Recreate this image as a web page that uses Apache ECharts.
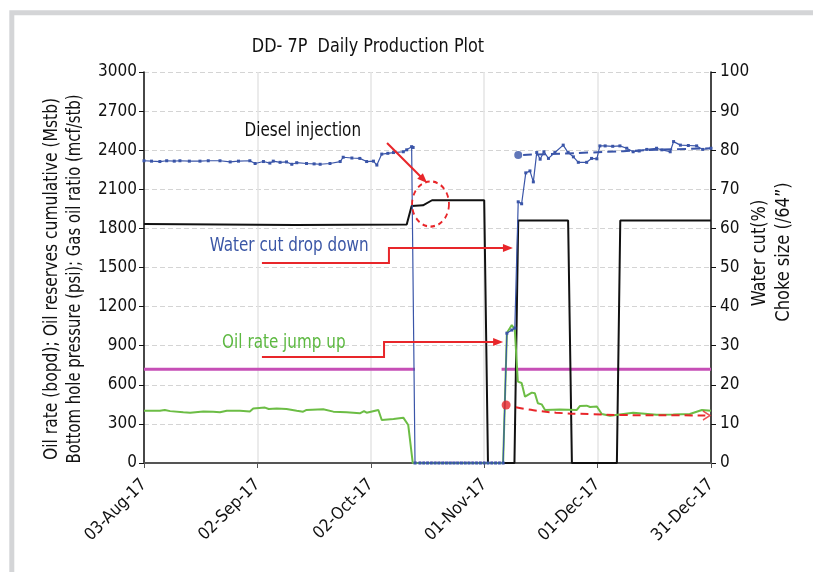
<!DOCTYPE html>
<html>
<head>
<meta charset="utf-8">
<title>DD-7P Daily Production Plot</title>
<script src="https://cdn.jsdelivr.net/npm/echarts@6/dist/echarts.min.js"></script>
<style>
html,body{margin:0;padding:0;background:#fff;}
#chart{width:813px;height:572px;}
</style>
</head>
<body>
<div id="chart"></div>
<script>
// x = days since 03-Aug-17
var tickLabels = ['03-Aug-17', '02-Sep-17', '02-Oct-17', '01-Nov-17', '01-Dec-17', '31-Dec-17'];

// water cut (%) - right axis
var waterCut = [
	[0,77.3],[2,77.2],[4.2,77.1],[6,77.3],[8,77.2],[9.5,77.3],[12,77.2],[14.8,77.2],[17,77.3],[20.1,77.3],
	[22.8,77.0],[25,77.2],[28,77.3],[29.4,76.6],[31.6,77.1],[33.3,76.7],[34.2,77.2],[36,76.9],[37.7,77.0],
	[39.1,76.4],[40.4,76.8],[43,76.6],[45,76.5],[46.6,76.4],[49.2,76.6],[51.9,77.1],[52.7,78.2],[55,78.0],
	[57.1,77.9],[58.9,77.1],[60.7,77.2],[61.6,76.2],[62.9,79.0],[64.5,79.2],[66,79.4],[68.6,79.6],[69.5,80.1],
	[70.8,80.9],[71.2,80.7],[71.7,0],
	[73,0],[74,0],[75,0],[76,0],[77,0],[78,0],[79,0],[80,0],[81,0],[82,0],[83,0],[84,0],[85,0],[86,0],
	[87,0],[88,0],[89,0],[90,0],[91,0],[92,0],[93,0],[94,0],[95,0],
	[96,33.2],[97.3,34.0],[98.1,34.5],[99,66.8],[99.9,66.3],[101,74.2],[102.1,74.7],[103,71.9],[103.9,79.4],
	[104.8,77.7],[105.8,79.6],[107,77.9],[108.7,79.4],[110.9,81.3],[112.2,79.4],[113.6,78.3],[114.9,76.9],
	[117.1,76.9],[118.4,77.9],[119.8,77.8],[120.6,81.1],[122,81.1],[124,81.0],[125.9,81.1],[127.7,80.5],
	[129.4,79.6],[131,79.8],[133,80.2],[135.6,80.5],[137,80.1],[139.2,79.6],[140.1,82.2],[141.9,81.3],
	[144,81.2],[146.2,81.1],[147.8,80.2],[150,80.5]
];

// choke size (/64") - right axis
var chokeSize = [
	[0,61.1],[40,60.9],[69.5,61.0],[70.8,65.7],[73.8,65.9],[76.2,67.2],[90,67.2],[91,0],
	[98,0],[99,62],[112.2,62],[113.2,0],[125.1,0],[126,62],[150,62]
];

// oil rate (bopd) - left axis
var oilRate = [
	[0,401],[4.2,401],[5.5,407],[6.9,398],[10.4,389],[12.2,386],[15.7,396],[18.3,394],[20.1,389],[21.9,401],
	[25.4,401],[28,396],[28.9,419],[32,425],[33,414],[35.1,419],[37.7,414],[40.4,401],[42.1,394],[43,407],
	[47.4,412],[50.1,394],[53.6,389],[57.1,381],[58.2,398],[58.9,386],[62,407],[62.9,330],[66,338],
	[68.6,348],[69,355],[69.9,292],[71.1,0],
	[95,0],[96,997],[97.3,1059],[98.1,1020],[98.9,624],[99.9,614],[100.8,509],[102.6,540],[103.4,535],
	[104.2,458],[105.2,450],[106.1,407],[110,410],[114.5,407],[115.3,437],[117.1,440],[118,430],[119.8,433],
	[121.1,376],[123.3,363],[129.4,385],[135.6,370],[140,372],[144.4,376],[147.6,407],[150,400]
];

// bottom hole pressure (psi) - left axis
var bhp = [[0,720],[71.7,720],[71.8,'-'],[94.5,'-'],[94.6,720],[150,720]];
var bhpShutIn = [[71.7,0],[95,0]];

// trend lines
var wcTrend = [[100.3,78.8],[118,79.4],[135.6,80.1],[150,80.5]];
var wcTrendStart = [[99,78.8]];
var oilTrend = [[98.4,427],[103,405],[109,386],[118,375],[126.7,368],[140,366],[148.5,365]];
var oilTrendStart = [[95.8,445]];
var oilTrendEnd = [[148.8,365]];

// annotations (day, left-axis value)
var noteTexts = ['Diesel injection', 'Water cut drop down', 'Oil rate jump up'];
var notePos = [[42,2547], [38.4,1665], [37,921]];
var noteColors = ['#111111', '#3b57a6', '#5cb840'];
var arrowPaths = [
	[[64.3,2455],[74.9,2148]],
	[[31.2,1535],[64.8,1535],[64.8,1650],[97.6,1650]],
	[[31.2,813],[63.5,813],[63.5,928],[95,928]]
];
var circlePos = [75.8,1987];

var font = "'DejaVu Sans Condensed', 'DejaVu Sans', sans-serif";

var dom = document.getElementById('chart');
var myChart = echarts.init(dom, null, {renderer: 'canvas'});

var option = {
	backgroundColor: '#ffffff',
	animation: false,
	textStyle: {fontFamily: font},
	grid: {left: 144, right: 102, top: 72, bottom: 109, outerBoundsMode: 'none'},
	xAxis: {
		type: 'value',
		min: 0,
		max: 150,
		interval: 30,
		axisLine: {lineStyle: {color: '#555', width: 2}},
		axisTick: {show: true, length: 5, lineStyle: {color: '#555'}},
		axisLabel: {
			rotate: 45,
			margin: 19,
			fontSize: 17,
			color: '#111',
			fontFamily: font,
			formatter: function (v) { return tickLabels[Math.round(v / 30)]; }
		},
		splitLine: {show: true, lineStyle: {color: '#e4e4e4', width: 1.5}}
	},
	yAxis: [{
		type: 'value',
		min: 0,
		max: 3000,
		interval: 300,
		axisLine: {show: true, lineStyle: {color: '#111', width: 1.5}},
		axisTick: {show: true, length: 5, lineStyle: {color: '#111'}},
		axisLabel: {fontSize: 17, color: '#111', margin: 7, fontFamily: font, formatter: function (v) { return String(v); }},
		splitLine: {show: true, lineStyle: {color: '#d4d4d4', type: [5, 3]}}
	}, {
		type: 'value',
		position: 'right',
		min: 0,
		max: 100,
		interval: 10,
		axisLine: {show: true, lineStyle: {color: '#111', width: 1.5}},
		axisTick: {show: true, length: 5, lineStyle: {color: '#111'}},
		axisLabel: {fontSize: 17, color: '#111', margin: 9, fontFamily: font},
		splitLine: {show: false}
	}],
	series: [{
		name: 'BHP shut-in',
		type: 'line',
		yAxisIndex: 0,
		data: bhpShutIn,
		symbol: 'none',
		lineStyle: {color: '#c64fb6', width: 2.5, type: [2, 2]},
		z: 2
	}, {
		name: 'Bottom hole pressure',
		type: 'line',
		yAxisIndex: 0,
		data: bhp,
		symbol: 'none',
		connectNulls: false,
		lineStyle: {color: '#c64fb6', width: 3},
		z: 3
	}, {
		name: 'Choke size',
		type: 'line',
		yAxisIndex: 1,
		data: chokeSize,
		symbol: 'none',
		lineStyle: {color: '#111', width: 2},
		z: 4
	}, {
		name: 'Oil rate',
		type: 'line',
		yAxisIndex: 0,
		data: oilRate,
		symbol: 'none',
		lineStyle: {color: '#6cbd45', width: 2},
		z: 5
	}, {
		name: 'Water cut',
		type: 'line',
		yAxisIndex: 1,
		data: waterCut,
		symbol: 'rect',
		symbolSize: 3,
		showAllSymbol: true,
		itemStyle: {color: '#3a55a8'},
		lineStyle: {color: '#3a55a8', width: 1.2},
		z: 6
	}, {
		name: 'Water cut trend',
		type: 'line',
		yAxisIndex: 1,
		data: wcTrend,
		symbol: 'none',
		smooth: true,
		lineStyle: {color: '#3a55a8', width: 2, type: [9, 5]},
		z: 7
	}, {
		name: 'Water cut trend start',
		type: 'scatter',
		yAxisIndex: 1,
		data: wcTrendStart,
		symbol: 'circle',
		symbolSize: 8,
		itemStyle: {color: '#3a55a8'},
		z: 7
	}, {
		name: 'Oil rate trend',
		type: 'line',
		yAxisIndex: 0,
		data: oilTrend,
		symbol: 'none',
		smooth: true,
		lineStyle: {color: '#e8262a', width: 2, type: [8, 5]},
		z: 8
	}, {
		name: 'Oil rate trend start',
		type: 'scatter',
		yAxisIndex: 0,
		data: oilTrendStart,
		symbol: 'circle',
		symbolSize: 9,
		itemStyle: {color: '#e8262a'},
		z: 8
	}, {
		name: 'Oil rate trend end',
		type: 'scatter',
		yAxisIndex: 0,
		data: oilTrendEnd,
		symbol: 'path://M0,0 L10,6 L0,12',
		symbolSize: [7, 9],
		itemStyle: {color: 'none', borderColor: '#e8262a', borderWidth: 1.5},
		z: 8
	}]
};

myChart.setOption(option, true);

// annotation layer in pixel space, placed from data coordinates
function px(p) {
	return myChart.convertToPixel({xAxisIndex: 0, yAxisIndex: 0}, p);
}
function label(txt, x, y, rot, sx, color) {
	return {
		type: 'text', x: x, y: y, rotation: rot, scaleX: sx, scaleY: 1,
		style: {text: txt, fontSize: 19, fontFamily: font, fill: color || '#111', align: 'center', verticalAlign: 'middle'},
		z: 100
	};
}
var graphics = [];
graphics.push({
	type: 'rect',
	shape: {x: 11.8, y: 12.8, width: 900, height: 700},
	style: {fill: 'none', stroke: '#d4d5d7', lineWidth: 5},
	silent: true
});
graphics.push(label('DD- 7P  Daily Production Plot', 368, 47, 0, 0.94));
graphics.push(label('Oil rate (bopd); Oil reserves cumulative (Mstb)', 52, 279, Math.PI / 2, 0.91));
graphics.push(label('Bottom hole pressure (psi); Gas oil ratio (mcf/stb)', 75, 279, Math.PI / 2, 0.87));
graphics.push(label('Water cut(%)', 760, 253, Math.PI / 2, 0.95));
graphics.push(label('Choke size (/64\u201D)', 784, 252, Math.PI / 2, 0.95));
for (var i = 0; i < noteTexts.length; i++) {
	var p = px(notePos[i]);
	graphics.push(label(noteTexts[i], p[0], p[1], 0, 0.89, noteColors[i]));
}
for (var k = 0; k < arrowPaths.length; k++) {
	var pts = [];
	for (var j = 0; j < arrowPaths[k].length; j++) {
		pts.push(px(arrowPaths[k][j]));
	}
	var a = pts[pts.length - 2], b = pts[pts.length - 1];
	var dx = b[0] - a[0], dy = b[1] - a[1];
	var len = Math.sqrt(dx * dx + dy * dy);
	var ux = dx / len, uy = dy / len;
	var hl = 10, hw = 4;
	var base = [b[0] - ux * hl, b[1] - uy * hl];
	pts[pts.length - 1] = [b[0] - ux * 4, b[1] - uy * 4];
	graphics.push({
		type: 'polyline',
		shape: {points: pts},
		style: {stroke: '#e8262a', lineWidth: 2, fill: 'none'},
		z: 100
	});
	graphics.push({
		type: 'polygon',
		shape: {points: [b, [base[0] - uy * hw, base[1] + ux * hw], [base[0] + uy * hw, base[1] - ux * hw]]},
		style: {fill: '#e8262a'},
		z: 100
	});
}
var c = px(circlePos);
graphics.push({
	type: 'circle',
	x: c[0], y: c[1], scaleX: 0.9, scaleY: 1.1,
	shape: {cx: 0, cy: 0, r: 20.5},
	style: {fill: 'none', stroke: '#e8262a', lineWidth: 2, lineDash: [5, 4]},
	z: 100
});

myChart.setOption({graphic: graphics});
</script>
</body>
</html>
